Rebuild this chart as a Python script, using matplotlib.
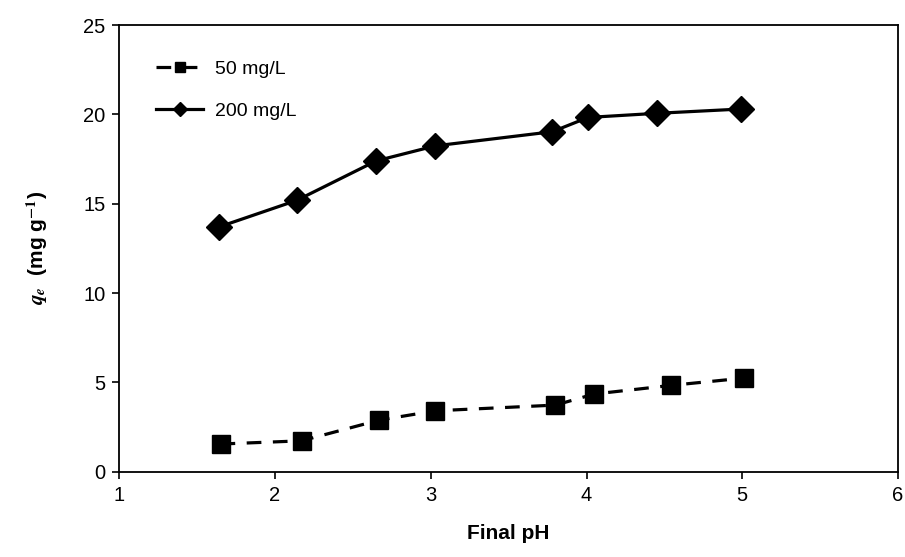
import matplotlib
matplotlib.use("Agg")
import matplotlib.pyplot as plt

plt.rcParams['font.family'] = ['Liberation Sans', 'DejaVu Sans']
plt.rcParams['mathtext.fontset'] = 'stix'

# final pH and adsorbed amount for the two initial concentrations
ph_50 = [1.65, 2.17, 2.67, 3.03, 3.80, 4.05, 4.54, 5.01]
qe_50 = [1.55, 1.73, 2.89, 3.41, 3.73, 4.35, 4.83, 5.24]

ph_200 = [1.64, 2.14, 2.65, 3.03, 3.78, 4.01, 4.45, 4.99]
qe_200 = [13.70, 15.19, 17.40, 18.24, 19.03, 19.83, 20.06, 20.30]

labels = ['50 mg/L', '200 mg/L']

fig = plt.figure(figsize=(9.05, 5.57), dpi=100)
ax = fig.add_axes([0.1318, 0.1531, 0.8605, 0.8019])

ax.plot(ph_50, qe_50, color='black', lw=2.3, dashes=(4.6, 3.6),
        marker='s', markersize=13, label=labels[0])
ax.plot(ph_200, qe_200, color='black', lw=2.3, marker='D',
        markersize=13.5, label=labels[1])

ax.set_xlim(1, 6)
ax.set_ylim(0, 25)
ax.set_xticks(range(1, 7))
ax.set_yticks(range(0, 26, 5))
ax.tick_params(direction='out', length=5, width=1.2, labelsize=14.5,
               top=False, right=False, pad=5)
for s in ax.spines.values():
    s.set_linewidth(1.3)

ax.set_xlabel('Final pH', fontsize=15, fontweight='bold', labelpad=14)
ax.set_ylabel(r'$\mathbfit{q}_{\mathbfit{e}}$  (mg g$^{\mathbf{-1}}$)',
              fontsize=15, fontweight='bold', labelpad=24)

ax.legend(loc='upper left', frameon=False, fontsize=14, markerscale=0.55,
          handlelength=2.4, handletextpad=0.6, labelspacing=1.25,
          bbox_to_anchor=(0.025, 0.96))

fig.savefig('out.png', dpi=100)
